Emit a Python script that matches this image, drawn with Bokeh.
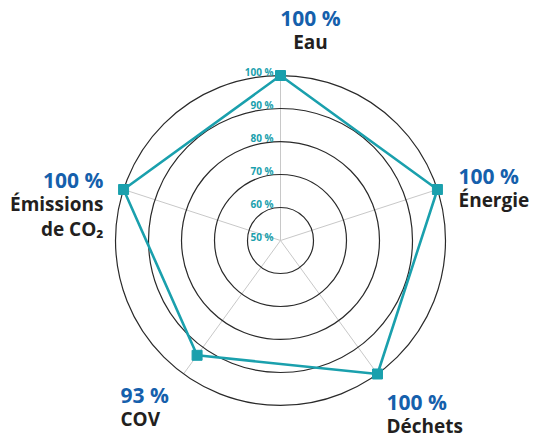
import math
from bokeh.plotting import figure
from bokeh.models import Range1d
from bokeh.core.properties import value
from bokeh.embed import file_html
from bokeh.resources import INLINE

# ---- data ----
categories = ["Eau", "Énergie", "Déchets", "COV", "Émissions\nde CO₂"]
values = [100, 100, 100, 93, 100]
value_labels = ["100 %", "100 %", "100 %", "93 %", "100 %"]
ring_values = [60, 70, 80, 90, 100]
tick_values = [50, 60, 70, 80, 90, 100]
tick_labels = ["50 %", "60 %", "70 %", "80 %", "90 %", "100 %"]
r_min, r_max = 50, 100

# ---- layout ----
R = 165.0  # pixel radius of the 100 % ring
def rad(v):
    return (v - r_min) / (r_max - r_min) * R

angles = [math.pi / 2 - i * 2 * math.pi / len(categories) for i in range(len(categories))]

TEAL = "#1aa0ad"
BLUE = "#1560ac"
DARK = "#231f20"
FONT = value("Open Sans")

W, H = 535, 441
cx, cy = 280, 240  # centre in picture pixels
p = figure(width=W, height=H, output_backend="svg", toolbar_location=None,
           x_range=Range1d(-cx, W - cx), y_range=Range1d(-(H - cy), cy),
           min_border=0)
p.axis.visible = False
p.grid.visible = False
p.outline_line_color = None
p.background_fill_color = "white"

# spokes
p.segment(x0=[0] * len(angles), y0=[0] * len(angles),
          x1=[R * math.cos(a) for a in angles], y1=[R * math.sin(a) for a in angles],
          line_color="#c8c8c8", line_width=1)

# rings
p.circle(x=[0] * len(ring_values), y=[0] * len(ring_values),
         radius=[rad(v) for v in ring_values],
         fill_color=None, line_color="#2a2a2a", line_width=1.2)

# tick labels
p.text(x=[-7] * len(tick_values), y=[rad(v) + 4 for v in tick_values], text=tick_labels,
       text_align="right", text_baseline="middle", text_color=TEAL,
       text_font=FONT, text_font_style="bold", text_font_size="10px")

# data polygon
xs = [rad(v) * math.cos(a) for v, a in zip(values, angles)]
ys = [rad(v) * math.sin(a) for v, a in zip(values, angles)]
p.line(x=xs + [xs[0]], y=ys + [ys[0]], line_color=TEAL, line_width=2.6)
p.scatter(x=xs, y=ys, marker="square", size=10, fill_color=TEAL, line_color=TEAL)

# category labels: (x anchor, y of value label, align) in pixel offsets from centre
label_layout = [
    (30, 223, "center"),
    (178, 65, "left"),
    (106, -161, "left"),
    (-160, -154, "left"),
    (-177, 61, "right"),
]
for (lx, ly, al), vl, cat in zip(label_layout, value_labels, categories):
    p.text(x=[lx], y=[ly], text=[vl], text_align=al, text_baseline="middle",
           text_color=BLUE, text_font=FONT, text_font_style="bold", text_font_size="21px")
    lines = cat.split("\n")
    p.text(x=[lx] * len(lines), y=[ly - 24 - 25 * k for k in range(len(lines))], text=lines,
           text_align=al, text_baseline="middle", text_color=DARK,
           text_font=FONT, text_font_style="bold", text_font_size="19px")

open("out.html", "w").write(file_html(p, INLINE))
